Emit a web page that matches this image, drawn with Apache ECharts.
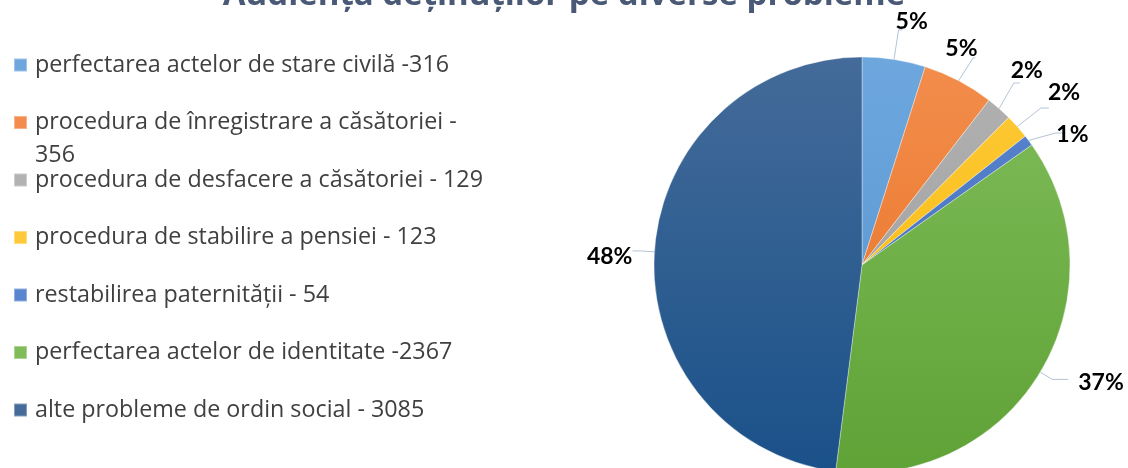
<!DOCTYPE html>
<html>
<head>
<meta charset="utf-8">
<script src="https://cdn.jsdelivr.net/npm/echarts@6/dist/echarts.min.js"></script>
<style>
  html, body { margin: 0; padding: 0; background: #fff; }
  #chart { width: 1128px; height: 468px; }
</style>
</head>
<body>
<div id="chart"></div>
<script>
// date
const names = [
  'perfectarea actelor de stare civilă -316',
  'procedura de înregistrare a căsătoriei - 356',
  'procedura de desfacere a căsătoriei - 129',
  'procedura de stabilire a pensiei - 123',
  'restabilirea paternității - 54',
  'perfectarea actelor de identitate -2367',
  'alte probleme de ordin social - 3085'
]
const values = [316, 356, 129, 123, 54, 2367, 3085]

// culori: sus (deschis) -> jos (inchis)
const colorsTop = ['#6da7de', '#f38d4d', '#b2b2b2', '#ffca3a', '#5a86cf', '#80bd5a', '#446b99']
const colorsBottom = ['#5592cd', '#e6701e', '#999999', '#f3b600', '#3e68b8', '#5fa236', '#1a5189']

// lungimea liniilor de eticheta si deplasarea etichetelor, pe felie
const lineLen = [30, 26, 34, 36, 30, 14, 14]
const lineLen2 = [4, 2, 6, 8, 10, 16, 8]
const labelDx = [-12, -35, -14, -6, -14, 5, 5]
const labelDy = [-8, -9, -12, -15, 2, 3, 6]

const chart = echarts.init(document.getElementById('chart'))

const grad = (i) => new echarts.graphic.LinearGradient(0, 57, 0, 473, [
  { offset: 0, color: colorsTop[i] },
  { offset: 1, color: colorsBottom[i] }
], true)

// cate o legenda pentru fiecare element, ca sa pastram pasul constant
const legends = names.map((name, i) => {
  const wrapped = i === 1
  const cy = 65 + i * 57.5
  return {
    data: [name],
    orient: 'vertical',
    left: 13,
    top: wrapped ? cy - 49.5 : cy - 16.5,
    padding: 0,
    itemWidth: 13,
    itemHeight: 13,
    icon: 'rect',
    selectedMode: false,
    formatter: (n) => wrapped ? ' \nprocedura de înregistrare a căsătoriei -\n356' : n,
    textStyle: {
      fontFamily: 'Open Sans',
      fontSize: 23.3,
      color: '#404040',
      lineHeight: 33,
      padding: [0, 0, 0, 3]
    }
  }
})

const option = {
  backgroundColor: '#fff',
  animation: false,
  title: {
    text: 'Audiența deținuților pe diverse probleme',
    left: 'center',
    top: -21,
    padding: 0,
    textStyle: {
      fontFamily: 'Open Sans',
      fontSize: 33,
      fontWeight: 'bold',
      color: '#4a5a76'
    }
  },
  legend: legends,
  series: [
    {
      type: 'pie',
      center: [862, 265],
      radius: 208,
      startAngle: 90,
      clockwise: true,
      percentPrecision: 0,
      avoidLabelOverlap: true,
      itemStyle: {
        borderColor: 'rgba(255,255,255,0.35)',
        borderWidth: 1
      },
      label: {
        show: true,
        position: 'outside',
        formatter: '{d}%',
        overflow: 'none',
        fontFamily: 'Lato',
        fontSize: 23,
        fontWeight: 'bold',
        color: '#000'
      },
      labelLine: {
        show: true,
        lineStyle: { color: '#b4c4d8', width: 1 }
      },
      labelLayout: (p) => ({ dx: labelDx[p.dataIndex], dy: labelDy[p.dataIndex] }),
      data: names.map((n, i) => ({
        name: n,
        value: values[i],
        itemStyle: { color: grad(i) },
        labelLine: { length: lineLen[i], length2: lineLen2[i] }
      }))
    }
  ]
}

chart.setOption(option)
</script>
</body>
</html>
